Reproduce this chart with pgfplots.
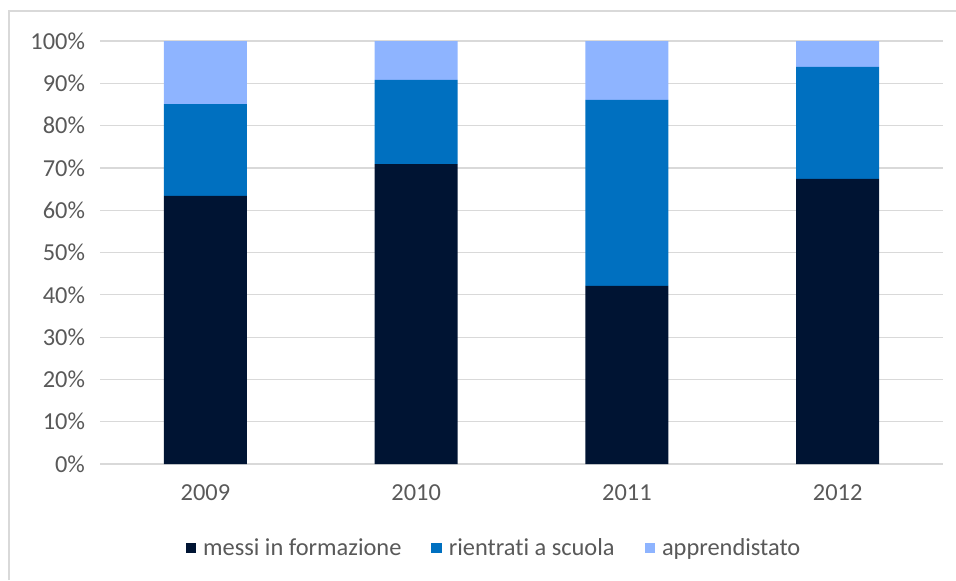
\documentclass[border=0pt]{standalone}
\usepackage{pgfplots}
\pgfplotsset{compat=1.18}
\usepackage{fontspec}
\setmainfont{Carlito}[Ligatures={NoCommon}]
\definecolor{messi}{HTML}{001433}
\definecolor{rientr}{HTML}{0070C0}
\definecolor{appr}{HTML}{8EB4FF}
\definecolor{gridc}{HTML}{D9D9D9}
\definecolor{txt}{HTML}{595959}

\begin{document}
\begin{tikzpicture}[x=0.5pt,y=0.5pt]
  % page = 956 x 580 px, 1 px = 0.5pt
  \path[use as bounding box] (0,0) rectangle (956,580);
  \draw[gridc, line width=1pt] (9,0) -- (9,569) -- (956,569);
  \begin{axis}[
    at={(50pt,58pt)}, anchor=south west,
    scale only axis,
    width=421.5pt, height=211.5pt,
    ybar stacked, bar width=41.5pt,
    xmin=-0.5, xmax=3.5,
    ymin=0, ymax=100,
    xtick=data,
    xticklabels={2009,2010,2011,2012},
    ytick={0,10,...,100},
    yticklabel={\pgfmathprintnumber{\tick}\%},
    /pgf/number format/assume math mode=true,
    major tick length=0pt,
    axis line style={draw=none},
    ymajorgrids,
    grid style={gridc, line width=0.6pt},
    tick label style={font=\fontsize{12.2}{14}\selectfont, text=txt},
    yticklabel style={xshift=-4pt},
    xticklabel style={yshift=-7pt},
    legend columns=3,
    legend style={draw=none, at={(0.4686,-0.199)}, anchor=center,
      font=\fontsize{12.2}{14}\selectfont, text=txt,
      /tikz/every odd column/.append style={column sep=1.5pt},
      /tikz/every even column/.append style={column sep=13pt}},
    legend image code/.code={\fill[#1] (0pt,-2.6pt) rectangle (5.2pt,2.6pt);},
  ]
    \addplot[fill=messi, draw=none] coordinates {(0,63.4) (1,70.9) (2,42.1) (3,67.4)};
    \addplot[fill=rientr, draw=none] coordinates {(0,21.7) (1,19.9) (2,44.0) (3,26.5)};
    \addplot[fill=appr, draw=none] coordinates {(0,14.9) (1,9.2) (2,13.9) (3,6.1)};
    \legend{messi in formazione, rientrati a scuola, apprendistato}
  \end{axis}
\end{tikzpicture}
\end{document}
